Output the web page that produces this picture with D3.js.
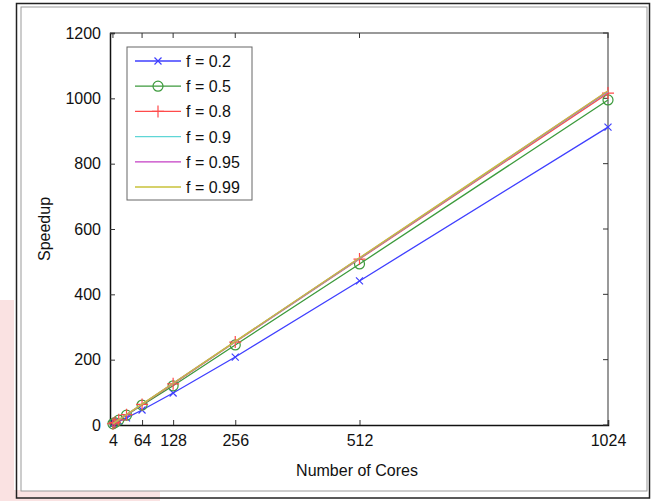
<!DOCTYPE html>
<html><head><meta charset="utf-8">
<script src="https://cdn.jsdelivr.net/npm/d3@7"></script>
<style>body{margin:0;background:#fff}svg{display:block}text{font-family:"Liberation Sans",Arial,sans-serif;fill:#111}</style>
</head><body><svg id="c" width="653" height="501"></svg>
<script>
const cores = [4, 8, 16, 32, 64, 128, 256, 512, 1024];
const fLabels = ["f = 0.2", "f = 0.5", "f = 0.8", "f = 0.9", "f = 0.95", "f = 0.99"];
const s02 = [3.2, 6, 11, 22, 46, 98, 208, 441, 912];
const s05 = [3.6, 7.3, 15, 30, 61, 120, 245, 493, 995];
const s08 = [3.9, 7.8, 15.7, 31.5, 63, 126, 254, 508, 1016];
const s09 = [3.95, 7.9, 15.8, 31.7, 63.4, 127, 255, 510, 1020];
const s095 = [3.98, 7.95, 15.9, 31.8, 63.7, 127.5, 255.5, 511, 1022];
const s099 = [4, 8, 16, 32, 64, 128, 256, 512, 1023];
const xTicks = [4, 64, 128, 256, 512, 1024];
const yTicks = [0, 200, 400, 600, 800, 1000, 1200];

const seriesVals = [s02, s05, s08, s09, s095, s099];
const colors = ["#3f3fff", "#3c9a3c", "#ff4a4a", "#5fd6d6", "#c43ec4", "#c8c23a"];
const markers = ["x", "o", "+", null, null, null];

const svg = d3.select("#c");
// watermark (faint)
const wm = svg.append("g").attr("fill", "#f9dcdc").attr("opacity", 0.8);
wm.append("rect").attr("x", 0).attr("y", 300).attr("width", 14).attr("height", 201);
wm.append("rect").attr("x", 0).attr("y", 490).attr("width", 160).attr("height", 11);
// frame
svg.append("rect").attr("x", 16.5).attr("y", 3.5).attr("width", 633).attr("height", 494.5)
  .attr("fill", "none").attr("stroke", "#222").attr("stroke-width", 1.5);
svg.append("rect").attr("x", 21).attr("y", 7).attr("width", 626).attr("height", 484)
  .attr("fill", "#fff").attr("stroke", "#999").attr("stroke-width", 1);

const L = 110, R = 608, T = 33, B = 425;
const x = d3.scaleLinear().domain([0, 1024]).range([L + 1, R]);
const y = d3.scaleLinear().domain([0, 1200]).range([B, T]);

// box top/right
svg.append("path").attr("d", `M${L},${T}H${R}V${B}`).attr("fill", "none").attr("stroke", "#999").attr("stroke-width", 2);

// axes
const yAx = svg.append("g").attr("transform", `translate(${L},0)`)
  .call(d3.axisLeft(y).tickValues(yTicks).tickSize(-5).tickPadding(9).tickFormat(d3.format("d")));
const xAx = svg.append("g").attr("transform", `translate(0,${B})`)
  .call(d3.axisBottom(x).tickValues(xTicks).tickSize(-5).tickPadding(10).tickFormat(d3.format("d")));
[yAx, xAx].forEach(g => {
  g.selectAll("text").attr("font-size", 16).attr("fill", "#111");
  g.selectAll("line").attr("stroke", "#333");
  g.select(".domain").attr("stroke", "#111").attr("stroke-width", 1.5);
});
// mirrored ticks
svg.append("g").selectAll("line").data(yTicks).join("line")
  .attr("x1", R - 5).attr("x2", R).attr("y1", d => y(d)).attr("y2", d => y(d)).attr("stroke", "#333");
svg.append("g").selectAll("line").data(xTicks).join("line")
  .attr("y1", T).attr("y2", T + 5).attr("x1", d => x(d)).attr("x2", d => x(d)).attr("stroke", "#333");

// lines
const line = d3.line().x((d, i) => x(cores[i])).y(d => y(d));
function marker(g, type, cx, cy, color) {
  if (type === "x") {
    g.append("path").attr("d", `M${cx-3.5},${cy-3.5}L${cx+3.5},${cy+3.5}M${cx-3.5},${cy+3.5}L${cx+3.5},${cy-3.5}`)
      .attr("stroke", color).attr("stroke-width", 1.2).attr("fill", "none");
  } else if (type === "o") {
    g.append("circle").attr("cx", cx).attr("cy", cy).attr("r", 5).attr("fill", "none").attr("stroke", color).attr("stroke-width", 1.2);
  } else if (type === "+") {
    g.append("path").attr("d", `M${cx-6},${cy}L${cx+6},${cy}M${cx},${cy-6}L${cx},${cy+6}`)
      .attr("stroke", color).attr("stroke-width", 1.2).attr("fill", "none");
  }
}
seriesVals.forEach((vals, si) => {
  const g = svg.append("g");
  g.append("path").datum(vals).attr("d", line).attr("fill", "none").attr("stroke", colors[si]).attr("stroke-width", 1.3);
  if (markers[si]) vals.forEach((v, i) => marker(g, markers[si], x(cores[i]), y(v), colors[si]));
});

// legend
const lg = svg.append("g");
lg.append("rect").attr("x", 127).attr("y", 47).attr("width", 125).attr("height", 153)
  .attr("fill", "#fff").attr("stroke", "#666").attr("stroke-width", 1);
fLabels.forEach((lab, i) => {
  const yy = 61 + i * 25.2;
  lg.append("line").attr("x1", 135).attr("x2", 181).attr("y1", yy).attr("y2", yy).attr("stroke", colors[i]).attr("stroke-width", 1.3);
  if (markers[i]) marker(lg, markers[i], 158, yy, colors[i]);
  lg.append("text").attr("x", 186).attr("y", yy + 6).attr("font-size", 16).text(lab);
});

// axis titles
svg.append("text").attr("x", 357).attr("y", 476).attr("text-anchor", "middle").attr("font-size", 16).text("Number of Cores");
svg.append("text").attr("transform", "translate(50,229) rotate(-90)").attr("text-anchor", "middle").attr("font-size", 16).text("Speedup");
</script></body></html>
